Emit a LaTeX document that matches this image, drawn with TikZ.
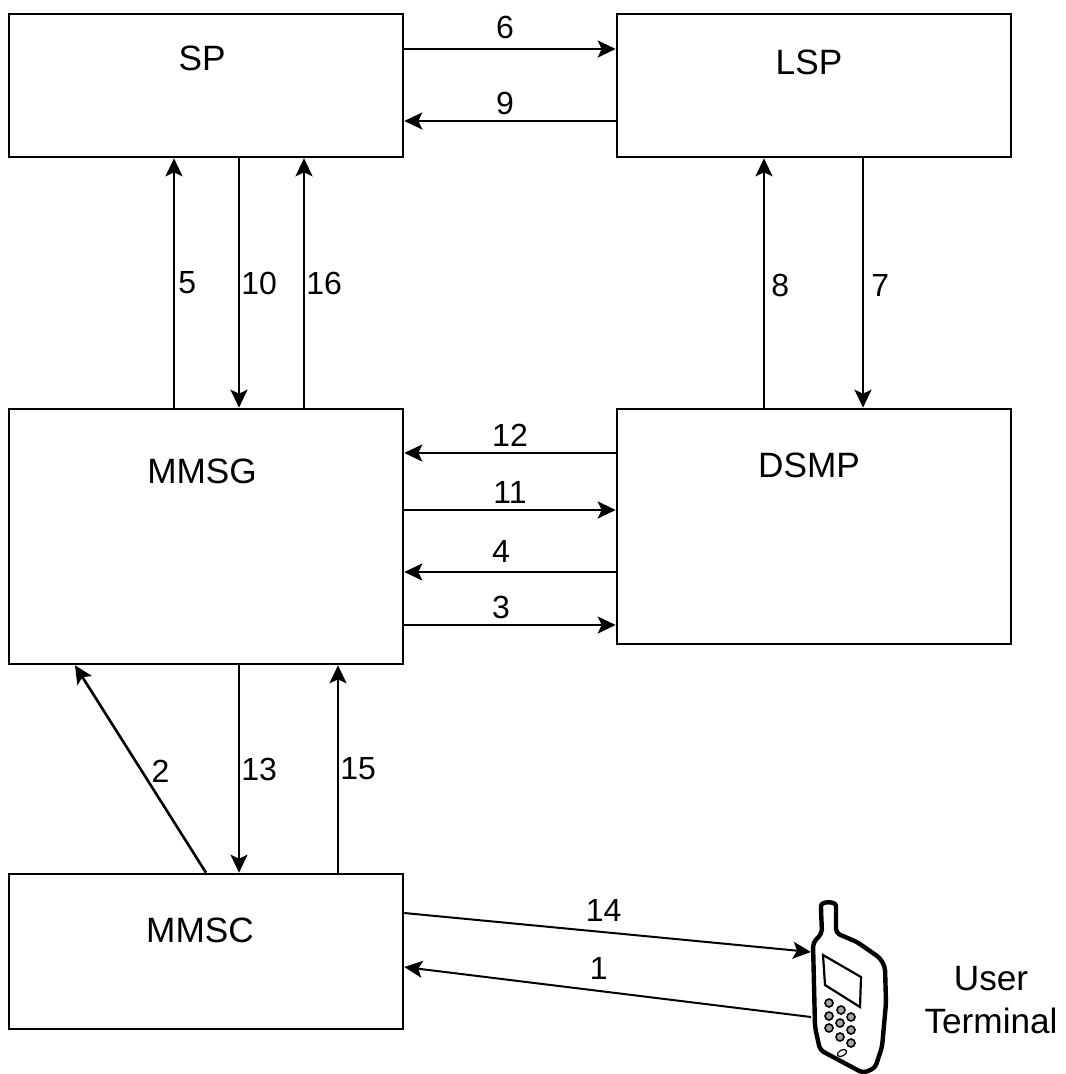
\documentclass[tikz,border=0pt]{standalone}
\usepackage{fontspec}
\setmainfont{Liberation Sans}
\usetikzlibrary{arrows.meta}

\begin{document}
\begin{tikzpicture}[x=0.5pt, y=-0.5pt, thick, line width=1.3pt,
    main/.style = {draw, minimum width=197pt, inner sep=0pt},
    boxtext/.style = {font=\fontsize{17.6}{21.5}\selectfont, inner sep=0pt},
    num/.style = {font=\fontsize{16}{18}\selectfont, inner sep=0pt},
    arr/.style = {-{Stealth[length=9pt, width=8.5pt, inset=2pt]}}]
      \useasboundingbox (0,0) rectangle (1065,1074);

      \node[main, minimum height=71.5pt] (sp) at (206,85.5) {};
      \node[main, minimum height=71.5pt] (lsp) at (814,85.5) {};
      \node[main, minimum height=127.5pt] (mmsg) at (206,536.5) {};
      \node[main, minimum height=117.5pt] (dsmp) at (814,526.5) {};
      \node[main, minimum height=77.5pt] (mmsc) at (206,951.5) {};

      \node[boxtext] (sptext) at (202,58) {SP};
      \node[boxtext] (lsptext) at (809,62) {LSP};
      \node[boxtext] (mmsgtext) at (202,471) {MMSG};
      \node[boxtext] (dsmptext) at (809,465) {DSMP};
      \node[boxtext] (mmsctext) at (200,930) {MMSC};
      \node[boxtext, align=center] (terminal) at (991,1000) {User\\Terminal};

      % top row
      \draw[arr] ([yshift=18.25pt]sp.east) -- node[num, above=4.5pt, xshift=-2.5pt] {6} ([yshift=18.25pt]lsp.west);
      \draw[arr] ([yshift=-17.75pt]lsp.west) -- node[num, above=2.5pt, xshift=-2.5pt] {9} ([yshift=-17.75pt]sp.east);

      % SP and MMSG
      \draw[arr] ([xshift=-16pt]mmsg.north) -- node[num, right=1.5pt] {5} ([xshift=-16pt]sp.south);
      \draw[arr] ([xshift=16.5pt]sp.south) -- node[num, right=0.5pt] {10} ([xshift=16.5pt]mmsg.north);
      \draw[arr] ([xshift=49pt]mmsg.north) -- node[num, right=0.5pt] {16} ([xshift=49pt]sp.south);

      % LSP and DSMP
      \draw[arr] ([xshift=-25pt]dsmp.north) -- node[num, right=3pt, yshift=-1pt] {8} ([xshift=-25pt]lsp.south);
      \draw[arr] ([xshift=24.5pt]lsp.south) -- node[num, right=3.5pt, yshift=-1pt] {7} ([xshift=24.5pt]dsmp.north);

      % MMSG and DSMP
      \draw[arr] ([yshift=36.75pt]dsmp.west) -- node[num, above=2.5pt] {12} ([yshift=41.75pt]mmsg.east);
      \draw[arr] ([yshift=13.25pt]mmsg.east) -- node[num, above=2.5pt] {11} ([yshift=8.25pt]dsmp.west);
      \draw[arr] ([yshift=-22.75pt]dsmp.west) -- node[num, above=4pt, xshift=-4.5pt] {4} ([yshift=-17.75pt]mmsg.east);
      \draw[arr, line width=1pt] ([yshift=-44.25pt]mmsg.east) -- node[num, above=2.5pt, xshift=-4.5pt] {3} ([yshift=-49.25pt]dsmp.west);

      % MMSG and MMSC
      \draw[arr] (mmsc.north) -- node[num, xshift=10pt, yshift=-1pt] {2} ([xshift=-65.5pt]mmsg.south);
      \draw[arr] ([xshift=16.5pt]mmsg.south) -- node[num, right=0.5pt] {13} ([xshift=16.5pt]mmsc.north);
      \draw[arr] ([xshift=66pt]mmsc.north) -- node[num, right=0.5pt] {15} ([xshift=66pt]mmsg.south);

      % phone
      \draw[line width=2.2pt, line join=round, rounded corners=2pt]
        (822,933) -- (821,910) .. controls (821,901) and (836,901) .. (836,910) -- (836,933)
        -- (857,942) -- (880,958) -- (885,967) -- (886,1003) -- (882,1047) -- (875,1068)
        -- (863,1073) -- (820,1050) -- (815,1027) -- (813,943) -- cycle;
      \draw[line width=1.1pt] (823,955) -- (861,977) -- (860,1007) -- (825,985) -- cycle;
      \foreach \keyx/\keyy in {829/1003, 841/1010, 851/1017, 829/1016, 840/1023, 851/1030, 829/1028, 840/1037, 851/1043}
        \draw[line width=0.8pt, fill=black!35] (\keyx,\keyy) circle (4);
      \draw[line width=0.6pt, rotate around={30:(842,1053)}] (842,1053) ellipse (5 and 3);

      \coordinate (phonein) at (811,952);
      \coordinate (phoneout) at (811,1017);
      \draw[arr, line width=1pt] ([yshift=19.25pt]mmsc.east) -- node[num, above=5pt, xshift=-2pt] {14} (phonein);
      \draw[arr, line width=1pt] (phoneout) -- node[num, above=6pt, xshift=-4.5pt] {1} ([yshift=-7.75pt]mmsc.east);
    \end{tikzpicture}
\end{document}
